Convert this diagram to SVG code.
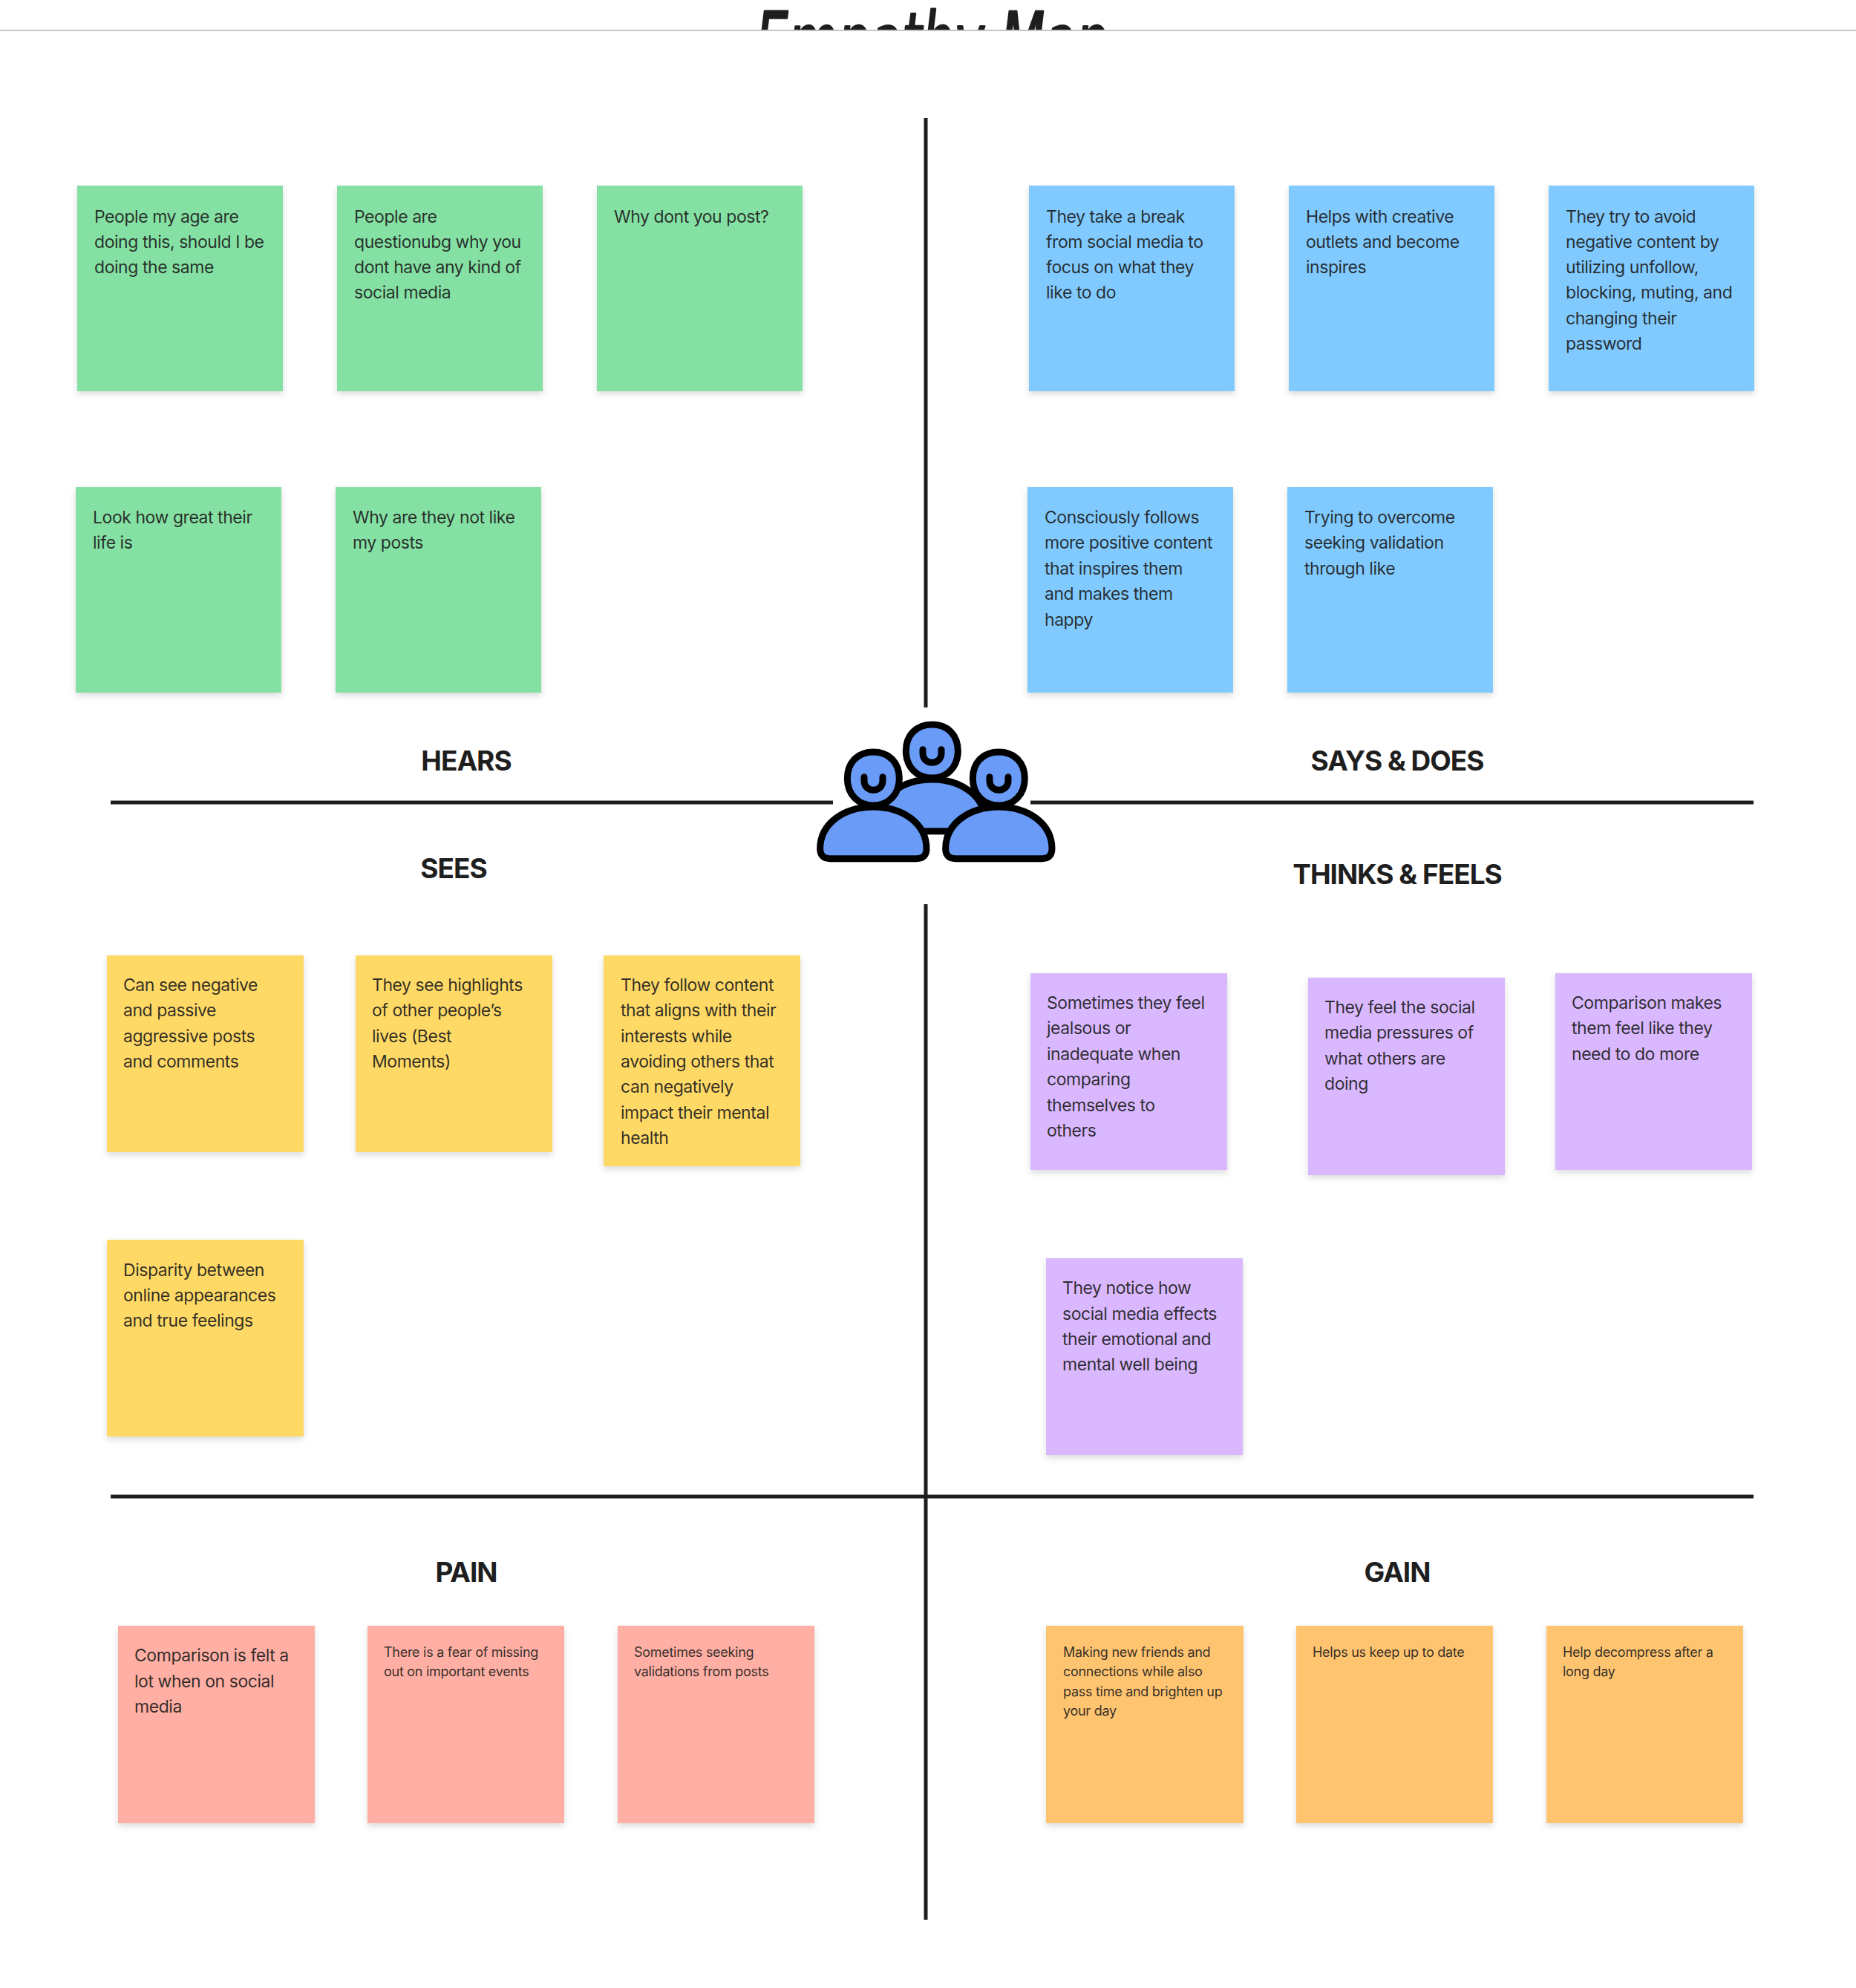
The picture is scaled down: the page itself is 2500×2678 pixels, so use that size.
<svg xmlns="http://www.w3.org/2000/svg" width="2500" height="2678" viewBox="0 0 2500 2678">
<style>
text{font-family:Inter,"Noto Sans","Liberation Sans",sans-serif}
.n text{font-size:23px;letter-spacing:-.45px;fill:#1e1e1e;fill-opacity:.92}
.s text{font-size:18px;letter-spacing:-.28px;fill:#1e1e1e;fill-opacity:.92}
.h{font-size:37px;font-weight:700;letter-spacing:-1px;fill:#1e1e1e;text-anchor:middle}
.g rect{fill:#85E0A3}.b rect{fill:#80CAFF}.y rect{fill:#FFD966}.p rect{fill:#D9B8FF}.r rect{fill:#FFAFA3}.o rect{fill:#FFC470}
.c rect{filter:url(#sh)}
.cn line{stroke:#1e1e1e;stroke-width:5}
.i{fill:#699BF7;stroke:#000;stroke-width:27;stroke-linejoin:round;stroke-linecap:round}
.m{fill:none}
</style>
<defs>
<filter id="sh" x="-10%" y="-10%" width="120%" height="120%"><feDropShadow dx="0" dy="4" stdDeviation="4" flood-color="#000" flood-opacity=".14"/></filter>
<clipPath id="tc"><rect x="0" y="0" width="2500" height="41"/></clipPath>
<g id="person"><path class="i" d="M205 620H553Q594 620 594 580C594 480 500 411 379 411C258 411 164 480 164 580Q164 620 205 620Z"/></g>
<g id="head"><path class="i" d="M379 189C445 189 484 235 484 296C484 360 440 405 379 405C318 405 274 360 274 296C274 235 313 189 379 189Z"/><path class="i m" d="M342 290V305C342 355 417 355 417 305V290"/></g>
</defs>
<rect width="2500" height="2678" fill="#fff"/>
<g id="title" clip-path="url(#tc)"><text x="1018" y="96" font-size="110" font-style="italic" textLength="475" lengthAdjust="spacingAndGlyphs" fill="#1e1e1e" stroke="#1e1e1e" stroke-width="3" stroke-linejoin="round" style="font-family:'DejaVu Sans',sans-serif">Empathy Map</text></g>
<rect x="0" y="40" width="2500" height="2" fill="#c4c4c4"/>
<g id="connectors" class="cn">
<line x1="1247" y1="159" x2="1247" y2="953"/>
<line x1="1247" y1="1218" x2="1247" y2="2586"/>
<line x1="149" y1="1081" x2="1122" y2="1081"/>
<line x1="1388" y1="1081" x2="2362" y2="1081"/>
<line x1="149" y1="2016" x2="2362" y2="2016"/>
</g>
<g id="icon" transform="translate(1050 950) scale(.3333)">
<use href="#person" x="237" y="-111"/><use href="#head" x="237" y="-111"/>
<use href="#head"/><use href="#person"/>
<use href="#head" x="507"/><use href="#person" x="507"/>
</g>
<g id="labels">
<text class="h" x="628" y="1038">HEARS</text>
<text class="h" x="1882" y="1038">SAYS &amp; DOES</text>
<text class="h" x="611" y="1183">SEES</text>
<text class="h" x="1882" y="1191">THINKS &amp; FEELS</text>
<text class="h" x="628" y="2131">PAIN</text>
<text class="h" x="1882" y="2131">GAIN</text>
</g>
<g id="n1" class="c n g"><rect x="104" y="250" width="277" height="277"/><text x="127" y="300">People my age are</text><text x="127" y="334">doing this, should I be</text><text x="127" y="368">doing the same</text></g>
<g id="n2" class="c n g"><rect x="454" y="250" width="277" height="277"/><text x="477" y="300">People are</text><text x="477" y="334">questionubg why you</text><text x="477" y="368">dont have any kind of</text><text x="477" y="402">social media</text></g>
<g id="n3" class="c n g"><rect x="804" y="250" width="277" height="277"/><text x="827" y="300">Why dont you post?</text></g>
<g id="n4" class="c n g"><rect x="102" y="656" width="277" height="277"/><text x="125" y="705">Look how great their</text><text x="125" y="739">life is</text></g>
<g id="n5" class="c n g"><rect x="452" y="656" width="277" height="277"/><text x="475" y="705">Why are they not like</text><text x="475" y="739">my posts</text></g>
<g id="n6" class="c n b"><rect x="1386" y="250" width="277" height="277"/><text x="1409" y="300">They take a break</text><text x="1409" y="334">from social media to</text><text x="1409" y="368">focus on what they</text><text x="1409" y="402">like to do</text></g>
<g id="n7" class="c n b"><rect x="1736" y="250" width="277" height="277"/><text x="1759" y="300">Helps with creative</text><text x="1759" y="334">outlets and become</text><text x="1759" y="368">inspires</text></g>
<g id="n8" class="c n b"><rect x="2086" y="250" width="277" height="277"/><text x="2109" y="300">They try to avoid</text><text x="2109" y="334">negative content by</text><text x="2109" y="368">utilizing unfollow,</text><text x="2109" y="402">blocking, muting, and</text><text x="2109" y="437">changing their</text><text x="2109" y="471">password</text></g>
<g id="n9" class="c n b"><rect x="1384" y="656" width="277" height="277"/><text x="1407" y="705">Consciously follows</text><text x="1407" y="739">more positive content</text><text x="1407" y="774">that inspires them</text><text x="1407" y="808">and makes them</text><text x="1407" y="843">happy</text></g>
<g id="n10" class="c n b"><rect x="1734" y="656" width="277" height="277"/><text x="1757" y="705">Trying to overcome</text><text x="1757" y="739">seeking validation</text><text x="1757" y="774">through like</text></g>
<g id="n11" class="c n y"><rect x="144" y="1287" width="265" height="265"/><text x="166" y="1335">Can see negative</text><text x="166" y="1369">and passive</text><text x="166" y="1404">aggressive posts</text><text x="166" y="1438">and comments</text></g>
<g id="n12" class="c n y"><rect x="479" y="1287" width="265" height="265"/><text x="501" y="1335">They see highlights</text><text x="501" y="1369">of other people’s</text><text x="501" y="1404">lives (Best</text><text x="501" y="1438">Moments)</text></g>
<g id="n13" class="c n y"><rect x="813" y="1287" width="265" height="284"/><text x="836" y="1335">They follow content</text><text x="836" y="1369">that aligns with their</text><text x="836" y="1404">interests while</text><text x="836" y="1438">avoiding others that</text><text x="836" y="1472">can negatively</text><text x="836" y="1507">impact their mental</text><text x="836" y="1541">health</text></g>
<g id="n14" class="c n y"><rect x="144" y="1670" width="265" height="265"/><text x="166" y="1719">Disparity between</text><text x="166" y="1753">online appearances</text><text x="166" y="1787">and true feelings</text></g>
<g id="n15" class="c n p"><rect x="1388" y="1311" width="265" height="265"/><text x="1410" y="1359">Sometimes they feel</text><text x="1410" y="1393">jealsous or</text><text x="1410" y="1428">inadequate when</text><text x="1410" y="1462">comparing</text><text x="1410" y="1497">themselves to</text><text x="1410" y="1531">others</text></g>
<g id="n16" class="c n p"><rect x="1762" y="1317" width="265" height="266"/><text x="1784" y="1365">They feel the social</text><text x="1784" y="1399">media pressures of</text><text x="1784" y="1434">what others are</text><text x="1784" y="1468">doing</text></g>
<g id="n17" class="c n p"><rect x="2095" y="1311" width="265" height="265"/><text x="2117" y="1359">Comparison makes</text><text x="2117" y="1393">them feel like they</text><text x="2117" y="1428">need to do more</text></g>
<g id="n18" class="c n p"><rect x="1409" y="1695" width="265" height="265"/><text x="1431" y="1743">They notice how</text><text x="1431" y="1778">social media effects</text><text x="1431" y="1812">their emotional and</text><text x="1431" y="1846">mental well being</text></g>
<g id="n19" class="c n r"><rect x="159" y="2190" width="265" height="266"/><text x="181" y="2238">Comparison is felt a</text><text x="181" y="2273">lot when on social</text><text x="181" y="2307">media</text></g>
<g id="n20" class="c s r"><rect x="495" y="2190" width="265" height="266"/><text x="517" y="2232">There is a fear of missing</text><text x="517" y="2258">out on important events</text></g>
<g id="n21" class="c s r"><rect x="832" y="2190" width="265" height="266"/><text x="854" y="2232">Sometimes seeking</text><text x="854" y="2258">validations from posts</text></g>
<g id="n22" class="c s o"><rect x="1409" y="2190" width="266" height="266"/><text x="1432" y="2232">Making new friends and</text><text x="1432" y="2258">connections while also</text><text x="1432" y="2285">pass time and brighten up</text><text x="1432" y="2311">your day</text></g>
<g id="n23" class="c s o"><rect x="1746" y="2190" width="265" height="266"/><text x="1768" y="2232">Helps us keep up to date</text></g>
<g id="n24" class="c s o"><rect x="2083" y="2190" width="265" height="266"/><text x="2105" y="2232">Help decompress after a</text><text x="2105" y="2258">long day</text></g>
</svg>
